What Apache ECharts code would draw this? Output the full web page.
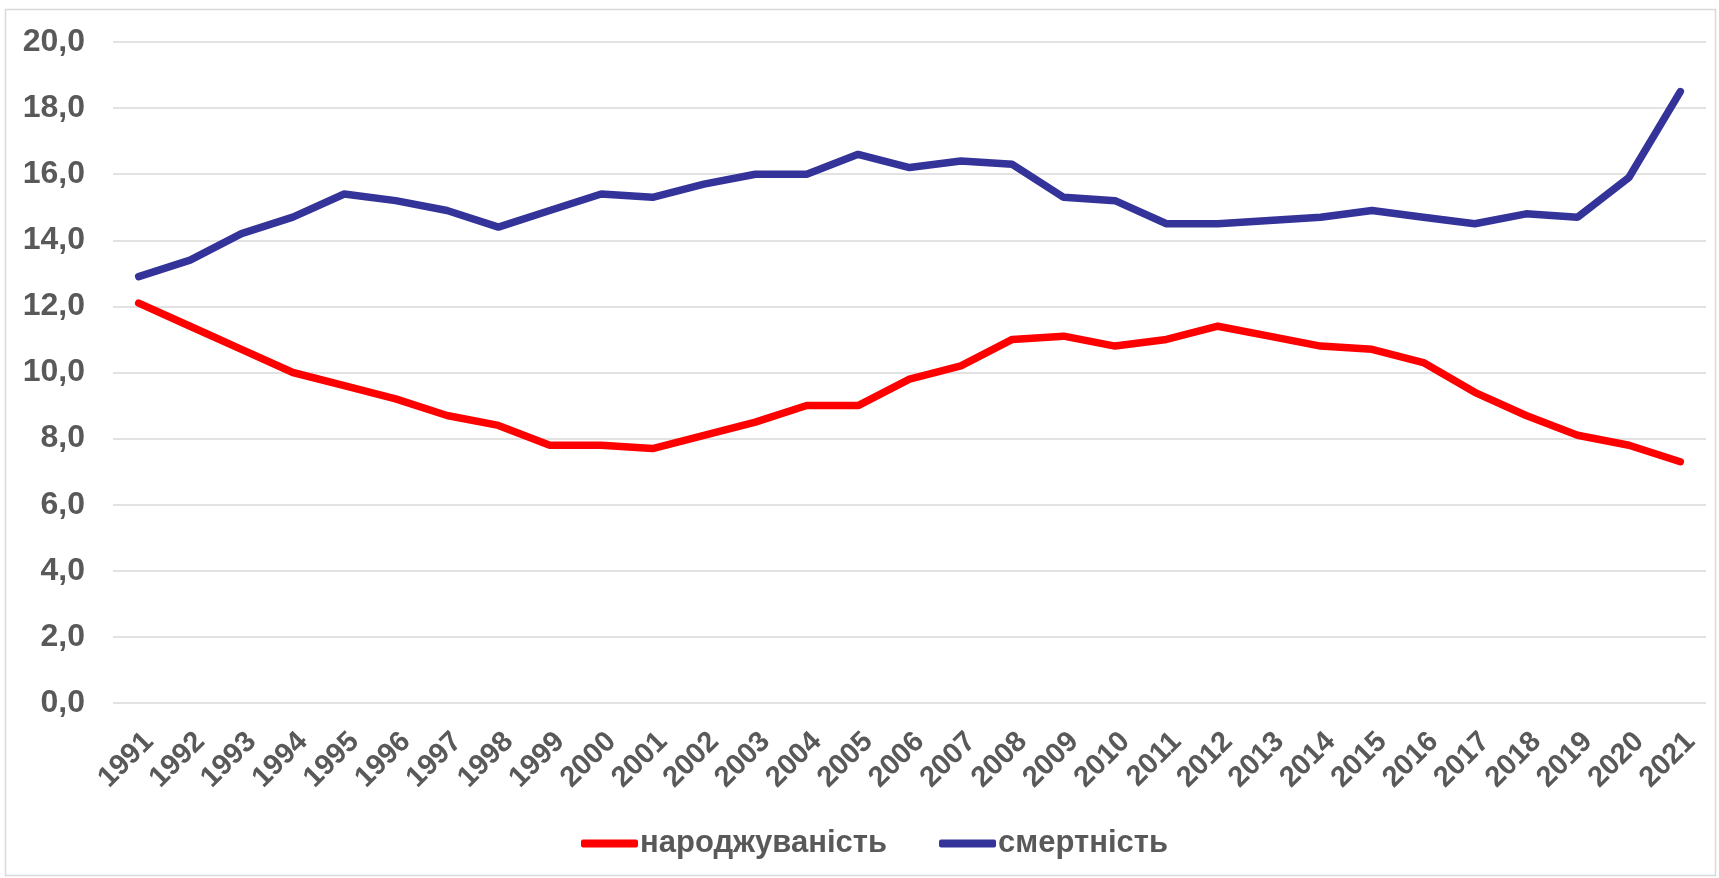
<!DOCTYPE html>
<html>
<head>
<meta charset="utf-8">
<script src="https://cdn.jsdelivr.net/npm/echarts@6/dist/echarts.min.js"></script>
<style>
  html, body { margin: 0; padding: 0; background: #fff; }
  #main { width: 1719px; height: 878px; }
</style>
</head>
<body>
<div id="main"></div>
<script>
// роки
var years = ['1991','1992','1993','1994','1995','1996','1997','1998','1999','2000',
    '2001','2002','2003','2004','2005','2006','2007','2008','2009','2010',
    '2011','2012','2013','2014','2015','2016','2017','2018','2019','2020','2021'];
// народжуваність, на 1000 осіб
var birthRate = [12.1, 11.4, 10.7, 10.0, 9.6, 9.2, 8.7, 8.4, 7.8, 7.8,
    7.7, 8.1, 8.5, 9.0, 9.0, 9.8, 10.2, 11.0, 11.1, 10.8,
    11.0, 11.4, 11.1, 10.8, 10.7, 10.3, 9.4, 8.7, 8.1, 7.8, 7.3];
// смертність, на 1000 осіб
var deathRate = [12.9, 13.4, 14.2, 14.7, 15.4, 15.2, 14.9, 14.4, 14.9, 15.4,
    15.3, 15.7, 16.0, 16.0, 16.6, 16.2, 16.4, 16.3, 15.3, 15.2,
    14.5, 14.5, 14.6, 14.7, 14.9, 14.7, 14.5, 14.8, 14.7, 15.9, 18.5];
var yMin = 0, yMax = 20, yStep = 2;

var myChart = echarts.init(document.getElementById('main'));
var textColor = '#595959';
var font = '"Liberation Sans", Arial, sans-serif';

var option = {
    backgroundColor: '#ffffff',
    animation: false,
    graphic: [{
        type: 'rect',
        shape: { x: 5.5, y: 9.5, width: 1710, height: 866 },
        style: { fill: 'none', stroke: '#d9d9d9', lineWidth: 1.5 },
        silent: true
    }],
    grid: {
        left: 113,
        right: 13,
        top: 42,
        bottom: 175,
        containLabel: false,
        outerBoundsMode: 'none'
    },
    legend: {
        left: 576,
        top: 823,
        itemWidth: 57,
        itemHeight: 8,
        itemGap: 52,
        icon: 'roundRect',
        textStyle: {
            color: textColor,
            fontFamily: font,
            fontWeight: 'bold',
            fontSize: 31,
            padding: [0, 0, 0, -3]
        },
        data: ['народжуваність', 'смертність']
    },
    xAxis: {
        type: 'category',
        boundaryGap: true,
        data: years,
        axisLine: { show: false },
        axisTick: { show: false },
        axisLabel: {
            interval: 0,
            rotate: 45,
            margin: 24,
            verticalAlign: 'top',
            color: textColor,
            fontFamily: font,
            fontWeight: 'bold',
            fontSize: 29
        }
    },
    yAxis: {
        type: 'value',
        min: yMin,
        max: yMax,
        interval: yStep,
        axisLine: { show: false },
        axisTick: { show: false },
        splitLine: { lineStyle: { color: '#d9d9d9', width: 1.5 } },
        axisLabel: {
            margin: 28,
            color: textColor,
            fontFamily: font,
            fontWeight: 'bold',
            fontSize: 32,
            formatter: function (v) { return v.toFixed(1).replace('.', ','); }
        }
    },
    series: [
        {
            name: 'народжуваність',
            type: 'line',
            data: birthRate,
            symbol: 'none',
            itemStyle: { color: '#ff0000' },
            lineStyle: { color: '#ff0000', width: 7.5, cap: 'round' }
        },
        {
            name: 'смертність',
            type: 'line',
            data: deathRate,
            symbol: 'none',
            itemStyle: { color: '#333399' },
            lineStyle: { color: '#333399', width: 7.5, cap: 'round' }
        }
    ]
};
option && myChart.setOption(option);
</script>
</body>
</html>
